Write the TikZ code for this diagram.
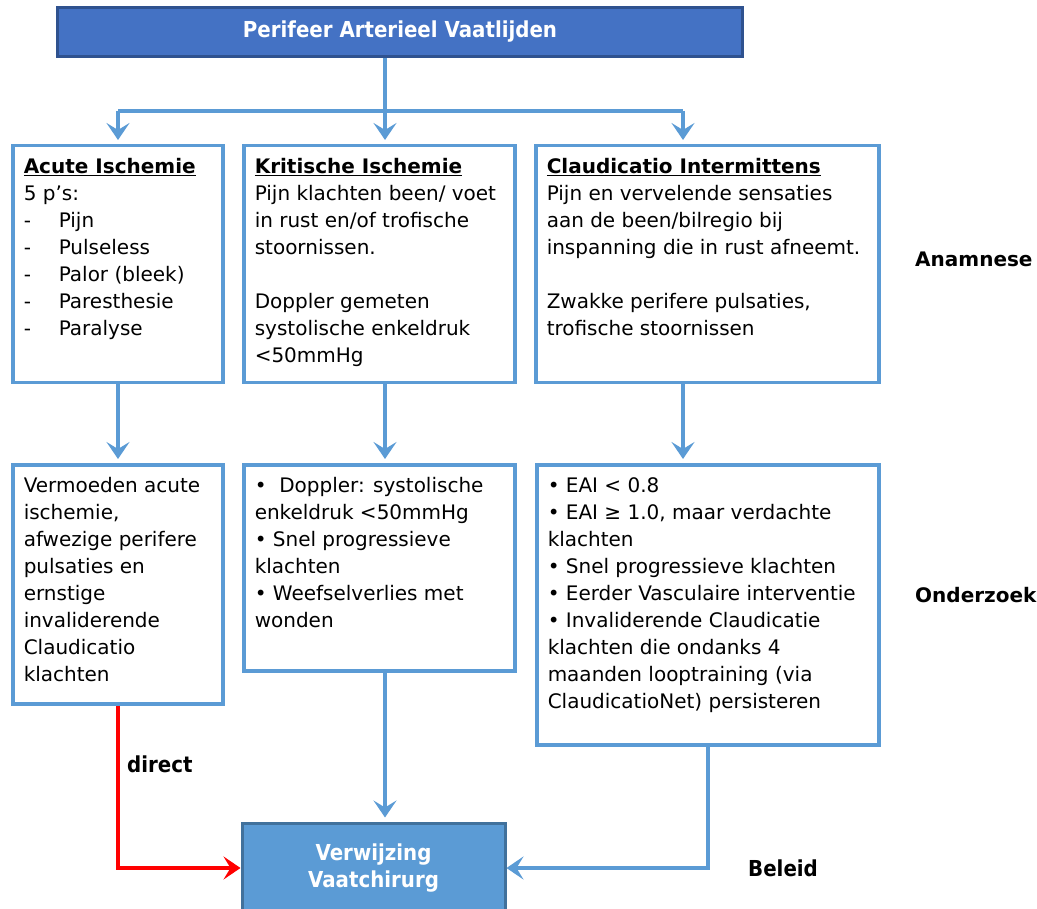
\documentclass[tikz,border=0pt]{standalone}
\usepackage{fontspec}
\setmainfont{DejaVu Sans}
\newfontfamily\narrowfont[FakeStretch=0.9]{DejaVu Sans}
\usetikzlibrary{arrows.meta}

\definecolor{linkblue}{HTML}{5B9BD5}
\definecolor{headfill}{HTML}{4472C4}
\definecolor{headline}{HTML}{2F528F}
\definecolor{referline}{HTML}{41719C}

\newcommand{\panel}[3]{\parbox[c][#2pt][t]{#1pt}{\begin{tabular}{@{}l@{}}#3\end{tabular}}}
\newcommand{\pdash}{\makebox[35pt][l]{-}}

\tikzset{every picture/.style = {x=1pt, y=-1pt, font=\fontsize{20}{27}\selectfont}}
\tikzset{panel/.style = {draw=linkblue, line width=3.5pt, fill=white, anchor=north west,
  inner xsep=11pt, inner ysep=9pt}}
\tikzset{link/.style = {draw=linkblue, line width=3.5pt,
  -{Stealth[length=17pt, width=23pt, inset=7pt]}, shorten >=4pt}}
\tikzset{stage/.style = {anchor=base west, inner sep=0, font=\fontsize{20}{27}\selectfont\bfseries}}
\tikzset{narrow/.style = {font=\fontsize{22}{27}\selectfont\narrowfont\bfseries}}

\begin{document}
\begin{tikzpicture}
  \useasboundingbox (0,0) rectangle (1037,909);

  \node(pav)[narrow, draw=headline, line width=3pt, fill=headfill, text=white,
    minimum width=685pt, minimum height=49pt] at (400,32) {Perifeer Arterieel Vaatlijden};

  \node(acute)[panel] at (11,144) {\panel{188}{219}{%
    \underline{\textbf{Acute Ischemie}}\\
    5 p’s:\\
    \pdash Pijn\\
    \pdash Pulseless\\
    \pdash Palor (bleek)\\
    \pdash Paresthesie\\
    \pdash Paralyse}};
  \node(kritisch)[panel] at (242,144) {\panel{249}{219}{%
    \underline{\textbf{Kritische Ischemie}}\\
    Pijn klachten been/ voet\\
    in rust en/of trofische\\
    stoornissen.\\ \\
    Doppler gemeten\\
    systolische enkeldruk\\
    <50mmHg}};
  \node(claud)[panel] at (534,144) {\panel{321}{219}{%
    \underline{\textbf{Claudicatio Intermittens}}\\
    Pijn en vervelende sensaties\\
    aan de been/bilregio bij\\
    inspanning die in rust afneemt.\\ \\
    Zwakke perifere pulsaties,\\
    trofische stoornissen}};

  \node(acute2)[panel] at (11,463) {\panel{188}{221}{%
    Vermoeden acute\\
    ischemie,\\
    afwezige perifere\\
    pulsaties en\\
    ernstige\\
    invaliderende\\
    Claudicatio\\
    klachten}};
  \node(kritisch2)[panel] at (242,463) {\panel{249}{188}{%
    •\ \ Doppler: systolische\\
    enkeldruk <50mmHg\\
    • Snel progressieve\\
    klachten\\
    • Weefselverlies met\\
    wonden}};
  \node(claud2)[panel] at (535,463) {\panel{320}{262}{%
    • EAI < 0.8\\
    • EAI ≥ 1.0, maar verdachte\\
    klachten\\
    • Snel progressieve klachten\\
    • Eerder Vasculaire interventie\\
    • Invaliderende Claudicatie\\
    klachten die ondanks 4\\
    maanden looptraining (via\\
    ClaudicatioNet) persisteren}};

  \node(verw)[narrow, draw=referline, line width=3pt, fill=linkblue, text=white, align=center,
    minimum width=263pt, minimum height=90pt] at (373.5,868) {Verwijzing\\Vaatchirurg};

  \node(anamnese)[stage] at (915,267) {Anamnese};
  \node(onderzoek)[stage] at (915,602) {Onderzoek};
  \node(beleid)[narrow, anchor=base west, inner sep=0] at (748,876) {Beleid};
  \node(direct)[narrow, anchor=base west, inner sep=0] at (127,772) {direct};

  \coordinate(cola) at (118,111);
  \coordinate(split) at (385,111);
  \coordinate(colc) at (683,111);

  \draw[draw=linkblue, line width=3.5pt] (pav.south -| split) -- (split);
  \draw[draw=linkblue, line width=3.5pt] (cola) -- (colc);
  \draw[link] (cola) -- (cola |- acute.north);
  \draw[link] (split) -- (split |- kritisch.north);
  \draw[link] (colc) -- (colc |- claud.north);

  \draw[link] (acute.south -| cola) -- (cola |- acute2.north);
  \draw[link] (kritisch.south -| split) -- (split |- kritisch2.north);
  \draw[link] (claud.south -| colc) -- (colc |- claud2.north);

  \draw[link] (kritisch2.south -| split) -- (split |- verw.north);
  \draw[link, draw=red, shorten >=0pt] (acute2.south -| cola) |- (verw.west);
  \draw[link, shorten >=0pt] (claud2.south) |- (verw.east);
\end{tikzpicture}
\end{document}
